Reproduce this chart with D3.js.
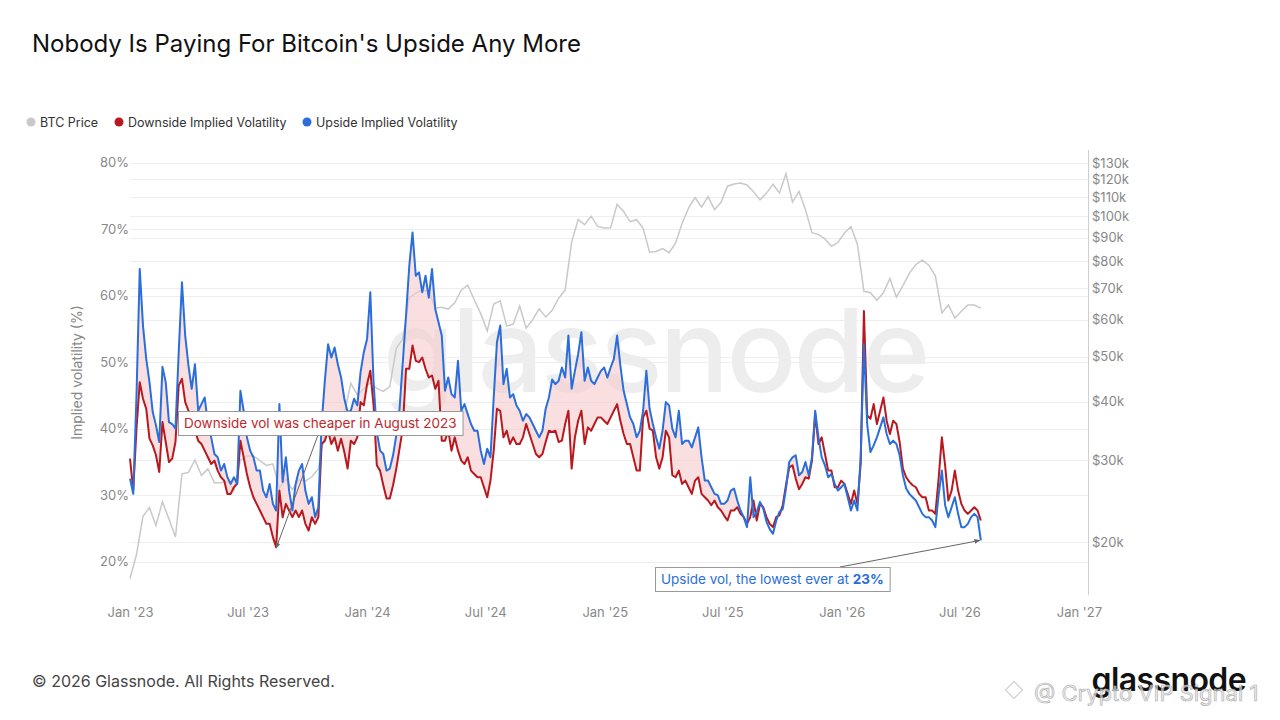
<!DOCTYPE html>
<html>
<head>
<meta charset="utf-8">
<script src="https://cdn.jsdelivr.net/npm/d3@7"></script>
<style>
	body { margin: 0; background: #fff; }
	svg { display: block; font-family: Inter, "Noto Sans", sans-serif; }
</style>
</head>
<body>
<svg width="1280" height="720"></svg>
<script>
// implied vol series, one value every 5 days from 1 Jan 2023 (%)
const upsideVol = [
	32.5, 30.2, 45, 64, 55.5, 50.5, 47, 42.5, 40.5, 38,
	49.3, 47, 41, 40.7, 40, 51.5, 62, 54, 49.5, 46,
	49.7, 42.7, 43.7, 44.7, 40.7, 38.7, 36.2, 35.7, 33.7, 34.7,
	32.7, 31.7, 32.7, 31.7, 45.7, 42.7, 38.7, 36.7, 35.7, 33.7,
	33.7, 30.7, 29.7, 31.7, 28.7, 27.7, 43.7, 32, 35.7, 30.7,
	27.7, 31.7, 33.7, 34.7, 30.7, 28.7, 29.7, 26.7, 28.2, 40.7,
	47.2, 52.7, 50.7, 52.2, 49.7, 47.7, 44.5, 42.5, 42.7, 44.5,
	43.5, 48.5, 51.5, 53.5, 60.5, 47, 39.5, 36.7, 36.2, 33.7,
	34, 36, 39, 43, 50, 57, 64.5, 69.5, 63, 63.5,
	60.5, 63, 59.7, 64, 58, 56, 54, 45.7, 47.7, 45.2,
	44.7, 50.2, 42.7, 43.7, 42.2, 40.7, 39.7, 39.7, 36.7, 34.7,
	37, 35.7, 44.7, 53, 55.5, 46.7, 49, 44.7, 45.2, 43.5,
	42.7, 41.2, 42.2, 41.7, 40.7, 39.7, 38.7, 39.7, 43, 44.7,
	47.4, 46.7, 47.2, 49.2, 47.7, 54, 46, 48.7, 51.2, 54.5,
	47.2, 49.2, 47.2, 46.7, 47.7, 48.7, 49.2, 47.7, 49.2, 50.5,
	54, 49.5, 45.7, 43.7, 41.7, 40.7, 38.7, 39.7, 42.7, 48.7,
	43, 40.7, 38.7, 37, 39.7, 44, 43.5, 40, 38.7, 42.7,
	37.7, 38.2, 38.2, 37.2, 38.7, 40.2, 35.7, 32.2, 32.2, 31.2,
	30.2, 30, 28.7, 28.7, 29.2, 30.7, 31, 29.2, 27.7, 26.7,
	25.2, 32.7, 26.7, 27.5, 29, 28, 26, 24.9, 24.2, 26.2,
	27.5, 27.9, 31, 35, 35.7, 36, 33, 33.5, 35, 33,
	35.7, 42.7, 38.7, 35.7, 34.5, 32.7, 33.2, 31.7, 30.7, 31.2,
	31.7, 29.7, 27.7, 29.2, 27.7, 35.7, 52.7, 40.7, 36.5, 37.5,
	38.7, 40.2, 41.7, 39.2, 37.7, 38.2, 37.7, 36, 33, 31,
	30.2, 29.7, 29.2, 28.2, 27.2, 26.7, 26.7, 26.2, 25.2, 30,
	33.7, 28.5, 26.7, 28.2, 29.7, 27.2, 25.2, 25.2, 25.7, 26.7,
	27.2, 26.7, 23.2
];
const downsideVol = [
	35.5, 30.8, 40, 47, 44.5, 43, 38.5, 37.5, 36, 33.5,
	41, 38, 35, 35.5, 38, 46.5, 47.5, 44, 42.7, 40.7,
	39.7, 38.2, 37.7, 36.7, 35.7, 34.7, 35.2, 33.7, 32.7, 32.2,
	30.2, 30.2, 31.2, 31.7, 38.2, 35.7, 33.2, 31.2, 29.7, 28.7,
	27.7, 26.7, 25.7, 25.7, 23.7, 22.2, 30.7, 26.7, 28.7, 27.7,
	26.7, 27.7, 26.7, 27.7, 25.7, 24.7, 26.7, 25.7, 26.7, 37.7,
	38.2, 39.7, 37.7, 38.7, 36.7, 38.5, 36.5, 34, 38.2, 37.7,
	38.7, 44, 43.5, 46.7, 48.7, 43.5, 34.5, 33.7, 31.5, 29.5,
	29.5, 31.5, 34, 37, 40, 49, 49, 52.5, 50.2, 50,
	50.7, 49, 47.7, 48, 46, 47.2, 38.2, 38.2, 39.7, 36.7,
	38.7, 36.7, 35.2, 34.7, 35.7, 33.7, 33.2, 32.7, 32.7, 31.2,
	29.7, 32.2, 36.7, 43, 42.7, 38.7, 39.7, 37.7, 38.7, 37.7,
	37.7, 38.7, 40.7, 39.2, 37.7, 36.2, 35.7, 36.2, 38, 39.7,
	39.5, 39.7, 38, 38.2, 40.7, 42.7, 34, 38.7, 41.2, 42.7,
	37.7, 40.2, 39.7, 40.7, 41.7, 41.7, 41.2, 40.7, 41.7, 42.7,
	43.7, 41.2, 39.2, 37.7, 37.7, 35.7, 33.7, 33.7, 41.7, 42.7,
	40, 39.7, 35.7, 34, 35.7, 39.7, 38.7, 33, 32.7, 33.7,
	31.7, 32.2, 31.2, 30.2, 32.2, 32.7, 30.2, 29.7, 29.2, 28.5,
	29.2, 28.2, 27.7, 26.9, 26.2, 27.7, 27.7, 28.2, 27.2, 26.7,
	25.7, 26.7, 29.2, 26.2, 28.7, 28.2, 26.7, 25.7, 25.2, 26.7,
	27, 28.5, 31.5, 34.2, 34.5, 32.5, 30.9, 31.7, 32.7, 32.5,
	35.2, 42.2, 37.7, 38.7, 36.2, 33.7, 33.7, 31.2, 31.2, 32.2,
	31.7, 30.2, 28.7, 30.7, 28.7, 34.7, 57.7, 42, 41.5, 43.7,
	40.7, 42.7, 44.7, 41.2, 39.2, 41.2, 40.7, 38, 34, 32.7,
	32, 31.5, 31.2, 30.2, 29.7, 29.7, 27.7, 27.7, 27.2, 32.5,
	38.7, 34.5, 29.2, 30.7, 33.7, 30.7, 28.7, 27.7, 27.2, 27.7,
	28.2, 27.7, 26.2
];
// BTC price, one value every 10 days from 1 Jan 2023 ($k)
const btcPrice = [
	16.7, 18.8, 22.7, 23.7, 21.7, 24.4, 22.4, 20.5, 28.0, 28.2,
	30.0, 27.8, 28.7, 26.8, 26.8, 27.0, 25.9, 30.0, 30.6, 30.6,
	29.9, 29.2, 29.4, 26.1, 27.3, 25.9, 27.2, 27.0, 27.6, 28.7,
	34.5, 35.6, 36.6, 37.8, 43.8, 41.4, 42.6, 43.9, 42.7, 42.1,
	43.1, 52.1, 54.5, 66.9, 68.4, 69.5, 68.9, 63.5, 63.8, 63.2,
	65.2, 69.4, 71.1, 66.2, 61.8, 56.7, 64.8, 65.8, 58.1, 58.7,
	64.1, 57.5, 60.0, 63.3, 60.8, 62.8, 66.7, 69.5, 88.0, 98.4,
	95.9, 100.0, 95.1, 94.4, 94.5, 106.1, 102.4, 97.4, 98.3, 94.2,
	83.7, 84.0, 85.2, 83.5, 87.5, 96.5, 104.1, 109.7, 104.6, 110.2,
	103.3, 107.1, 116.0, 117.3, 117.8, 116.7, 112.9, 108.4, 112.1, 117.1,
	112.2, 123.3, 107.2, 113.0, 103.3, 92.2, 91.3, 89.4, 86.2, 87.8,
	92.0, 95.0, 87.0, 69.0, 68.5, 66.0, 68.5, 73.5, 67.0, 71.0,
	75.5, 78.8, 80.5, 78.5, 74.5, 62.0, 64.5, 60.5, 62.5, 64.5,
	64.5, 63.5
];

const xTicks = ["2023-01-01", "2023-07-01", "2024-01-01", "2024-07-01", "2025-01-01",
	"2025-07-01", "2026-01-01", "2026-07-01", "2027-01-01"];
const volTicks = [20, 30, 40, 50, 60, 70, 80];
const priceTicks = [20, 30, 40, 50, 60, 70, 80, 90, 100, 110, 120, 130];

const startDate = new Date(2023, 0, 1);
const volStep = 5, priceStep = 10;

const svg = d3.select("svg");
const plotLeft = 130, plotRight = 1088, plotTop = 150, plotBottom = 595;

const x = d3.scaleTime()
	.domain([startDate, new Date(2027, 0, 15)])
	.range([plotLeft, plotRight]);
const y = d3.scaleLinear()
	.domain([15, 81.9])
	.range([plotBottom, plotTop]);
const yPrice = d3.scaleLog()
	.domain([15.39, 138.7])
	.range([plotBottom, plotTop]);

const vols = upsideVol.map((u, i) => ({
	date: d3.timeDay.offset(startDate, i * volStep),
	up: u,
	down: downsideVol[i]
}));
const prices = btcPrice.map((p, i) => ({
	date: d3.timeDay.offset(startDate, i * priceStep),
	price: p
}));

// title + legend
svg.append("text")
	.attr("x", 32).attr("y", 52)
	.attr("font-size", 24)
	.attr("fill", "#111")
	.text("Nobody Is Paying For Bitcoin's Upside Any More");

const legendItems = [
	{ label: "BTC Price", color: "#c9c9c9", x: 31 },
	{ label: "Downside Implied Volatility", color: "#b8191e", x: 119 },
	{ label: "Upside Implied Volatility", color: "#2a6edb", x: 307 }
];
const legend = svg.append("g").selectAll("g")
	.data(legendItems)
	.join("g")
	.attr("transform", d => `translate(${d.x},122)`);
legend.append("circle").attr("r", 4.5).attr("fill", d => d.color);
legend.append("text")
	.attr("x", 9).attr("y", 4.5)
	.attr("font-size", 12.5)
	.attr("fill", "#333")
	.text(d => d.label);

// watermark
svg.append("text")
	.attr("x", 655).attr("y", 392)
	.attr("text-anchor", "middle")
	.attr("font-size", 116)
	.attr("font-weight", 500)
	.attr("letter-spacing", -3)
	.attr("fill", "#000")
	.attr("fill-opacity", 0.07)
	.text("glassnode");

// grid
const grid = svg.append("g").attr("stroke", "#eeeeee").attr("stroke-width", 1);
grid.selectAll("line.v")
	.data(volTicks)
	.join("line")
	.attr("class", "v")
	.attr("x1", plotLeft).attr("x2", plotRight)
	.attr("y1", d => Math.round(y(d)) + 0.5)
	.attr("y2", d => Math.round(y(d)) + 0.5);
grid.selectAll("line.p")
	.data(priceTicks)
	.join("line")
	.attr("class", "p")
	.attr("x1", plotLeft).attr("x2", plotRight)
	.attr("y1", d => Math.round(yPrice(d)) + 0.5)
	.attr("y2", d => Math.round(yPrice(d)) + 0.5);

// axes
const xAxis = svg.append("g")
	.attr("transform", `translate(0,${plotBottom + 5})`)
	.call(d3.axisBottom(x)
		.tickValues(xTicks.map(d => d3.timeParse("%Y-%m-%d")(d)))
		.tickFormat(d3.timeFormat("%b '%y"))
		.tickSize(0)
		.tickPadding(8));
const yAxis = svg.append("g")
	.attr("transform", `translate(${plotLeft - 1},0)`)
	.call(d3.axisLeft(y)
		.tickValues(volTicks)
		.tickFormat(d => d + "%")
		.tickSize(0)
		.tickPadding(0));
const yAxisR = svg.append("g")
	.attr("transform", `translate(${plotRight},0)`)
	.call(d3.axisRight(yPrice)
		.tickValues(priceTicks)
		.tickFormat(d => "$" + d + "k")
		.tickSize(0)
		.tickPadding(4));
[xAxis, yAxis, yAxisR].forEach(a => {
	a.select(".domain").remove();
	a.selectAll("text")
		.attr("font-family", "Inter, sans-serif")
		.attr("font-size", 13)
		.attr("fill", "#888");
});
svg.append("line")
	.attr("x1", plotRight + 0.5).attr("x2", plotRight + 0.5)
	.attr("y1", plotTop).attr("y2", plotBottom)
	.attr("stroke", "#cfcfcf");

svg.append("text")
	.attr("transform", `translate(82,${(plotTop + plotBottom) / 2}) rotate(-90)`)
	.attr("text-anchor", "middle")
	.attr("font-size", 14)
	.attr("fill", "#888")
	.text("Implied volatility (%)");

// BTC price
svg.append("path")
	.datum(prices)
	.attr("fill", "none")
	.attr("stroke", "#c9c9c9")
	.attr("stroke-width", 1.5)
	.attr("d", d3.line().x(d => x(d.date)).y(d => yPrice(d.price)));

// spread where upside > downside
svg.append("path")
	.datum(vols)
	.attr("fill", "#f5c9c9")
	.attr("fill-opacity", 0.6)
	.attr("d", d3.area()
		.x(d => x(d.date))
		.y0(d => y(d.down))
		.y1(d => y(Math.max(d.up, d.down))));

svg.append("path")
	.datum(vols)
	.attr("fill", "none")
	.attr("stroke", "#b8191e")
	.attr("stroke-width", 2)
	.attr("stroke-linejoin", "round")
	.attr("d", d3.line().x(d => x(d.date)).y(d => y(d.down)));
svg.append("path")
	.datum(vols)
	.attr("fill", "none")
	.attr("stroke", "#2a6edb")
	.attr("stroke-width", 2)
	.attr("stroke-linejoin", "round")
	.attr("d", d3.line().x(d => x(d.date)).y(d => y(d.up)));

// annotations
svg.append("defs").append("marker")
	.attr("id", "arrow")
	.attr("viewBox", "0 0 10 10")
	.attr("refX", 9).attr("refY", 5)
	.attr("markerWidth", 6).attr("markerHeight", 6)
	.attr("orient", "auto")
	.append("path")
	.attr("d", "M0,1L10,5L0,9Z")
	.attr("fill", "#666");

const lowDown = vols[45], lowUp = vols[vols.length - 1];

function note(bx, by, parts, color, from, target) {
	svg.append("line")
		.attr("x1", from[0]).attr("y1", from[1])
		.attr("x2", target[0]).attr("y2", target[1])
		.attr("stroke", "#666")
		.attr("stroke-width", 1)
		.attr("marker-end", "url(#arrow)");
	const g = svg.append("g");
	const rect = g.append("rect")
		.attr("x", bx + 0.5).attr("y", by + 0.5)
		.attr("height", 24)
		.attr("fill", "#fff")
		.attr("stroke", "#999");
	const t = g.append("text")
		.attr("x", bx + 6).attr("y", by + 17)
		.attr("font-size", 13.5)
		.attr("fill", color);
	parts.forEach(p => t.append("tspan").attr("font-weight", p.bold ? 700 : 400).text(p.text));
	rect.attr("width", t.node().getComputedTextLength() + 12);
}

note(178, 411, [{ text: "Downside vol was cheaper in August 2023" }], "#c0282d",
	[318, 435], [x(lowDown.date), y(lowDown.down) + 1]);
note(655, 567, [{ text: "Upside vol, the lowest ever at " }, { text: "23%", bold: true }], "#2a6edb",
	[840, 567], [x(lowUp.date) - 1, y(lowUp.up)]);

// footer
svg.append("text")
	.attr("x", 32).attr("y", 687)
	.attr("font-size", 16)
	.attr("fill", "#444")
	.text("\u00a9 2026 Glassnode. All Rights Reserved.");
svg.append("text")
	.attr("x", 1246).attr("y", 691)
	.attr("text-anchor", "end")
	.attr("font-size", 32)
	.attr("font-weight", 600)
	.attr("letter-spacing", -0.6)
	.attr("fill", "#111")
	.text("glassnode");

// overlaid third-party watermark
svg.append("rect")
	.attr("x", 1008).attr("y", 684)
	.attr("width", 12).attr("height", 12)
	.attr("transform", "rotate(45,1014,690)")
	.attr("fill", "none")
	.attr("stroke", "#bbb")
	.attr("stroke-opacity", 0.8);
svg.append("text")
	.attr("x", 1034).attr("y", 701)
	.attr("font-size", 22)
	.attr("fill", "#e6e6e6")
	.attr("fill-opacity", 0.7)
	.attr("stroke", "#aaa")
	.attr("stroke-width", 0.6)
	.text("@ Crypto VIP Signal 1");
</script>
</body>
</html>
